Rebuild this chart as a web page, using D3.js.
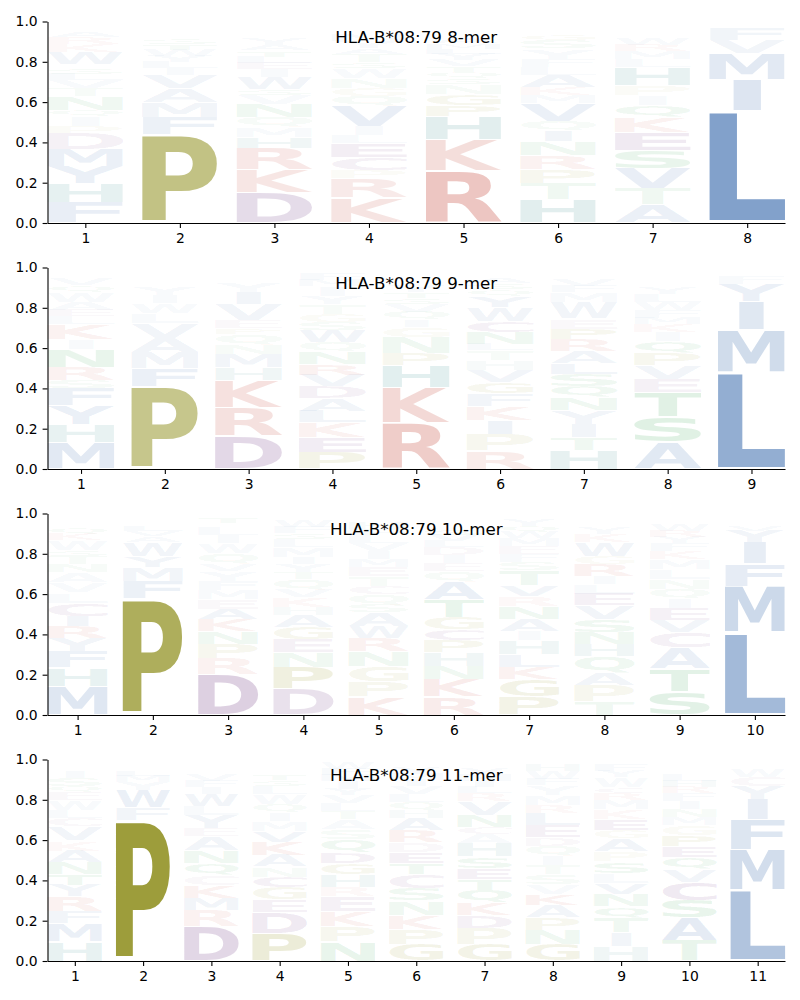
<!DOCTYPE html>
<html><head><meta charset="utf-8">
<script src="https://cdn.jsdelivr.net/npm/d3@7"></script>
<style>body{margin:0;background:#fff} svg{display:block}</style>
</head><body><svg id="chart" width="800" height="1000"></svg>
<script>
const allele = "HLA-B*08:79";
const lengths = [8, 9, 10, 11];
const yTicks = [0, 0.2, 0.4, 0.6, 0.8, 1.0];

// Each position: letters stacked bottom -> top, [residue, frequency]
const mer8 = [
 [["F",.10],["H",.095],["Y",.085],["M",.085],["D",.08],["P",.035],["I",.05],["Q",.03],["N",.07],["T",.04],["V",.04],["L",.03],["S",.03],["E",.02],["W",.06],["K",.04],["R",.03],["A",.03],["C",.02],["G",.015]],
 [["P",.44],["F",.085],["M",.075],["A",.07],["V",.065],["I",.035],["L",.03],["Y",.03],["W",.03],["T",.025],["S",.025],["Q",.02],["E",.02],["G",.015],["H",.015],["R",.015],["K",.01]],
 [["D",.15],["K",.115],["R",.105],["H",.055],["M",.05],["Q",.05],["N",.065],["V",.045],["S",.03],["W",.06],["I",.04],["E",.03],["L",.03],["T",.03],["A",.03],["Y",.03],["G",.02],["F",.02],["P",.02],["C",.01]],
 [["K",.125],["R",.095],["P",.04],["C",.065],["E",.07],["L",.04],["I",.045],["V",.1],["Q",.05],["G",.04],["N",.05],["W",.05],["S",.03],["T",.04],["A",.03],["Y",.03],["M",.03],["F",.02],["H",.02],["D",.02]],
 [["R",.26],["K",.155],["H",.115],["P",.055],["G",.055],["N",.05],["S",.03],["Q",.03],["T",.03],["V",.03],["Y",.03],["L",.025],["M",.025],["A",.025],["I",.02],["E",.02],["D",.015],["F",.015],["W",.01],["C",.01]],
 [["H",.115],["T",.08],["P",.07],["R",.07],["N",.07],["I",.055],["Q",.045],["V",.09],["M",.04],["K",.04],["A",.06],["L",.04],["F",.04],["Y",.05],["S",.04],["G",.03],["E",.02],["W",.02],["D",.015],["C",.01]],
 [["A",.09],["T",.08],["V",.1],["S",.09],["E",.09],["K",.075],["Q",.058],["I",.05],["P",.05],["H",.09],["L",.04],["M",.04],["R",.03],["W",.03],["F",.02],["Y",.02],["N",.015],["G",.01],["D",.01],["C",.01]],
 [["L",.555],["I",.155],["M",.13],["V",.068],["F",.062],["Y",.015],["A",.005],["W",.005]]
];
const mer9 = [
 [["M",.13],["H",.09],["Y",.095],["F",.085],["S",.04],["R",.065],["N",.09],["I",.05],["K",.075],["L",.04],["E",.03],["A",.04],["W",.05],["Q",.03],["V",.03],["T",.02],["D",.02],["P",.015],["G",.01]],
 [["P",.41],["F",.09],["M",.078],["A",.072],["V",.075],["L",.05],["W",.05],["I",.04],["Y",.04],["T",.02],["S",.02],["Q",.015],["E",.01],["G",.01],["H",.005],["R",.005]],
 [["D",.165],["R",.14],["K",.135],["H",.063],["M",.065],["N",.05],["Q",.05],["P",.03],["E",.04],["V",.08],["I",.06],["Y",.05],["W",.02],["L",.02],["S",.01],["T",.01],["A",.01],["G",.005]],
 [["P",.083],["E",.075],["K",.072],["L",.057],["A",.063],["D",.058],["V",.058],["R",.053],["N",.062],["Q",.047],["W",.06],["S",.04],["G",.04],["T",.05],["Y",.04],["I",.05],["M",.03],["F",.03],["H",.02],["C",.01]],
 [["R",.23],["K",.175],["H",.11],["P",.06],["N",.08],["G",.05],["I",.035],["Q",.04],["V",.04],["S",.03],["T",.03],["Y",.03],["A",.02],["L",.02],["M",.015],["E",.015],["F",.01],["D",.01]],
 [["R",.09],["P",.08],["I",.07],["K",.07],["F",.063],["G",.058],["V",.058],["H",.05],["T",.05],["L",.03],["N",.058],["C",.058],["W",.07],["Y",.055],["Q",.03],["S",.03],["A",.03],["M",.02],["E",.02],["D",.01]],
 [["H",.092],["T",.063],["I",.067],["Y",.07],["N",.063],["Q",.055],["S",.062],["L",.053],["A",.058],["R",.058],["P",.055],["E",.05],["W",.08],["M",.05],["F",.03],["V",.03],["K",.02],["G",.02],["D",.01],["C",.01]],
 [["A",.133],["S",.125],["T",.12],["E",.067],["V",.07],["P",.063],["Q",.055],["I",.045],["K",.04],["M",.03],["F",.04],["W",.04],["L",.04],["Y",.03],["R",.02],["N",.02],["H",.02],["G",.02],["D",.01],["C",.01]],
 [["L",.48],["M",.21],["I",.14],["Y",.085],["F",.04],["V",.02],["W",.01],["A",.01]]
];
const mer10 = [
 [["M",.144],["H",.09],["F",.08],["Y",.066],["R",.058],["I",.053],["C",.066],["L",.05],["V",.05],["A",.05],["N",.04],["T",.04],["S",.03],["W",.05],["K",.03],["Q",.03],["E",.02],["G",.02],["D",.015],["P",.015]],
 [["P",.58],["F",.085],["M",.068],["Y",.055],["W",.07],["A",.03],["V",.025],["L",.025],["I",.02],["Q",.01],["T",.01],["S",.01],["E",.005],["G",.005]],
 [["D",.2],["R",.078],["P",.073],["N",.063],["K",.058],["A",.053],["E",.05],["M",.046],["F",.045],["Y",.05],["V",.035],["Q",.05],["W",.05],["I",.04],["L",.04],["S",.02],["T",.03],["G",.01],["H",.01]],
 [["D",.128],["P",.11],["N",.071],["E",.066],["G",.06],["A",.058],["H",.04],["K",.05],["V",.04],["Q",.05],["T",.035],["Y",.04],["I",.035],["M",.05],["L",.04],["S",.03],["F",.03],["W",.03],["R",.02],["C",.01]],
 [["K",.09],["P",.075],["G",.075],["N",.075],["R",.066],["W",.058],["A",.07],["S",.04],["Q",.05],["C",.04],["T",.05],["E",.045],["M",.04],["I",.04],["V",.04],["L",.035],["F",.035],["H",.03],["D",.02],["Y",.02]],
 [["R",.09],["K",.086],["N",.066],["H",.066],["P",.061],["C",.053],["G",.063],["T",.088],["A",.09],["Q",.05],["E",.04],["I",.04],["D",.04],["L",.03],["V",.03],["S",.03],["M",.02],["F",.02],["Y",.02],["W",.01]],
 [["P",.09],["G",.086],["K",.063],["L",.063],["H",.07],["I",.045],["A",.058],["N",.063],["R",.05],["V",.053],["T",.075],["S",.04],["F",.04],["E",.04],["M",.04],["W",.03],["Q",.03],["Y",.03],["D",.02],["C",.01]],
 [["T",.066],["P",.08],["A",.063],["Q",.08],["H",.063],["N",.058],["S",.066],["V",.066],["E",.058],["L",.05],["I",.04],["R",.058],["G",.04],["W",.07],["K",.04],["Y",.03],["M",.02],["F",.02],["D",.02],["C",.01]],
 [["S",.116],["T",.113],["A",.104],["C",.078],["V",.061],["E",.058],["I",.046],["Q",.046],["N",.05],["L",.05],["M",.05],["K",.04],["F",.04],["Y",.03],["R",.03],["W",.03],["P",.02],["G",.02],["H",.01],["D",.01]],
 [["L",.41],["M",.229],["F",.111],["I",.106],["Y",.058],["V",.025],["W",.015],["A",.01],["C",.01],["T",.01],["S",.01]]
];
const mer11 = [
 [["H",.096],["M",.09],["F",.058],["R",.076],["Y",.058],["T",.053],["N",.058],["A",.058],["K",.05],["V",.07],["C",.04],["L",.04],["W",.05],["E",.04],["Q",.03],["S",.04],["I",.03],["D",.02],["G",.02],["P",.02]],
 [["P",.70],["F",.06],["W",.088],["Y",.04],["M",.03],["L",.025],["A",.02],["V",.015],["I",.01],["T",.01]],
 [["D",.17],["R",.08],["M",.063],["K",.063],["C",.05],["Q",.058],["N",.063],["A",.07],["E",.04],["Y",.066],["L",.045],["W",.06],["I",.035],["F",.03],["V",.03],["S",.02],["T",.02],["H",.02],["G",.01],["P",.01]],
 [["P",.138],["D",.104],["E",.061],["G",.061],["C",.053],["N",.05],["A",.058],["K",.066],["V",.055],["M",.05],["I",.04],["Q",.04],["W",.05],["L",.04],["S",.03],["T",.03],["Y",.02],["R",.02],["F",.02],["H",.01]],
 [["N",.096],["P",.078],["K",.073],["E",.075],["R",.046],["H",.063],["G",.055],["D",.053],["Q",.063],["S",.05],["A",.05],["T",.04],["L",.04],["V",.04],["Y",.03],["I",.04],["M",.03],["F",.03],["W",.03],["C",.02]],
 [["G",.083],["P",.075],["K",.07],["N",.07],["S",.063],["C",.07],["T",.053],["E",.055],["D",.05],["R",.058],["A",.06],["H",.04],["Q",.04],["L",.04],["V",.04],["I",.03],["M",.03],["Y",.03],["F",.02],["W",.02]],
 [["G",.083],["P",.08],["D",.063],["K",.063],["Q",.063],["T",.055],["E",.053],["S",.058],["H",.066],["A",.045],["C",.035],["N",.058],["V",.07],["R",.04],["L",.03],["I",.03],["M",.03],["Y",.03],["F",.02],["W",.02]],
 [["G",.083],["N",.071],["P",.061],["A",.061],["K",.056],["V",.05],["S",.05],["T",.045],["I",.045],["Q",.05],["D",.04],["E",.06],["L",.06],["R",.04],["M",.05],["Y",.05],["F",.03],["W",.04],["H",.03],["C",.02]],
 [["H",.075],["I",.066],["T",.075],["Q",.053],["N",.063],["V",.055],["L",.05],["S",.058],["P",.05],["A",.063],["G",.04],["E",.055],["K",.05],["M",.045],["R",.035],["C",.03],["W",.05],["Y",.03],["F",.03],["D",.02]],
 [["T",.1],["A",.113],["S",.088],["C",.091],["V",.061],["Q",.061],["E",.053],["P",.055],["G",.05],["M",.04],["N",.04],["I",.04],["F",.04],["R",.03],["H",.03],["L",.03],["K",.02],["W",.02],["Y",.02],["D",.01]],
 [["L",.35],["M",.2],["F",.15],["I",.1],["Y",.066],["C",.046],["W",.04],["V",.02],["A",.01],["T",.01]]
];
const panels = [mer8, mer9, mer10, mer11];

// residue colour groups
const colorGroups = [
  ["AVLIMFWY", "#3366aa"],
  ["KR", "#c0392b"],
  ["DEC", "#642878"],
  ["NQST", "#1e963c"],
  ["PG", "#808000"],
  ["H", "#147878"]
];
const residueColor = {};
colorGroups.forEach(([s, c]) => s.split("").forEach(ch => residueColor[ch] = c));

const svg = d3.select("#chart");
const FONT = '"DejaVu Sans", sans-serif';
const cv = document.createElement("canvas").getContext("2d");
cv.font = 'bold 100px ' + FONT;
const metricsCache = {};
function ink(c) {
  if (!metricsCache[c]) {
    const t = cv.measureText(c);
    metricsCache[c] = {L: t.actualBoundingBoxLeft, R: t.actualBoundingBoxRight,
                       A: t.actualBoundingBoxAscent, D: t.actualBoundingBoxDescent};
  }
  return metricsCache[c];
}

const left = 47.5, right = 785;
const tops = [21.5, 267.5, 513.5, 759.5];
const ph = 201.5;
const vpad = 0.05, glyphWidth = 0.8;

panels.forEach((positions, pi) => {
  const n = lengths[pi];
  const top = tops[pi];
  const x = d3.scaleLinear().domain([0.6, n + 0.4]).range([left, right]);
  const y = d3.scaleLinear().domain([0, 1]).range([top + ph, top]);
  const g = svg.append("g");

  const eInk = ink("E");
  const eW = eInk.L + eInk.R;
  positions.forEach((stack, j) => {
    let base = 0;
    const pos = j + 1;
    const boxW = x(pos + glyphWidth / 2) - x(pos - glyphWidth / 2);
    stack.forEach(([c, v]) => {
      const m = ink(c);
      const iw = m.L + m.R, ih = m.A + m.D;
      const hs = Math.min(boxW / iw, boxW / eW);
      const cw = hs * iw;
      const x0 = x(pos) - cw / 2;
      const yTop = y(base + v * (1 - vpad / 2));
      const yBot = y(base + v * (vpad / 2));
      const sy = (yBot - yTop) / ih;
      g.append("text")
        .attr("transform", `translate(${x0},${yTop}) scale(${hs},${sy}) translate(${m.L},${m.A})`)
        .attr("font-family", FONT).attr("font-weight", "bold").attr("font-size", 100)
        .attr("fill", residueColor[c])
        .attr("fill-opacity", Math.min(1, v * 1.1))
        .text(c);
      base += v;
    });
  });

  const yAxis = d3.axisLeft(y).tickValues(yTicks).tickFormat(d3.format(".1f"))
    .tickSize(4.9).tickPadding(4.9).tickSizeOuter(0);
  const xAxis = d3.axisBottom(x).tickValues(d3.range(1, n + 1)).tickFormat(d3.format("d"))
    .tickSize(4.9).tickPadding(4.9).tickSizeOuter(0);
  const ya = svg.append("g").attr("transform", `translate(${left},0)`).call(yAxis);
  const xa = svg.append("g").attr("transform", `translate(0,${top + ph})`).call(xAxis);
  [ya, xa].forEach(a => {
    a.selectAll("text").attr("font-family", FONT).attr("font-size", 13.9).attr("fill", "#000");
    a.selectAll("line").attr("stroke", "#000").attr("stroke-width", 1.1);
    a.select(".domain").attr("stroke", "#000").attr("stroke-width", 1.1);
  });

  svg.append("text")
    .attr("x", (left + right) / 2).attr("y", top + 21)
    .attr("text-anchor", "middle")
    .attr("font-family", FONT).attr("font-size", 16.7).attr("fill", "#000")
    .text(`${allele} ${n}-mer`);
});
</script>
</body></html>
